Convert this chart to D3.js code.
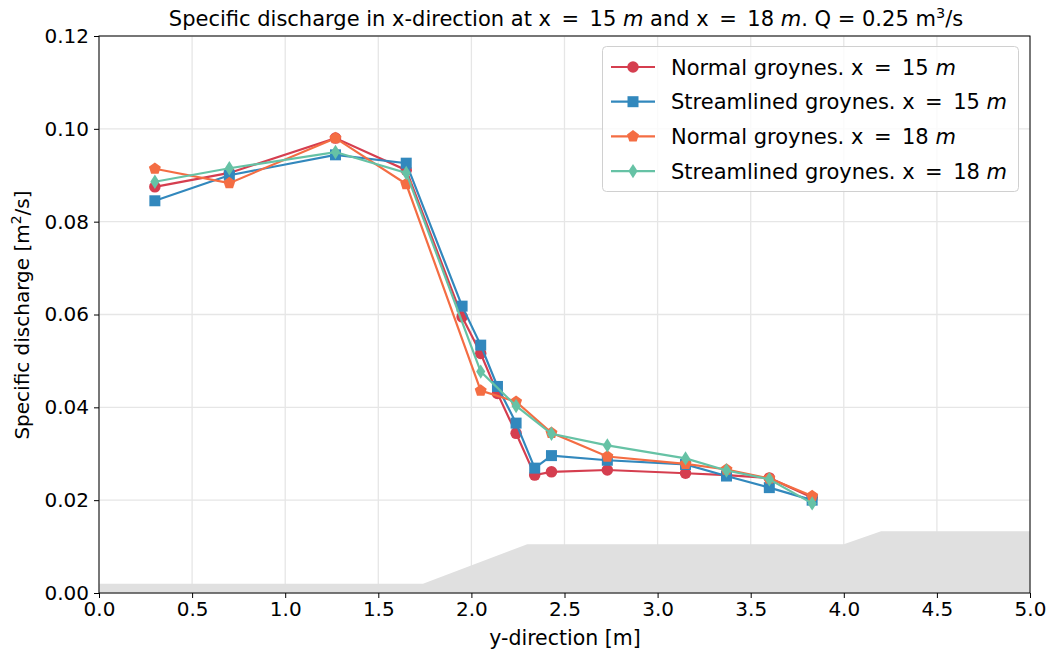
<!DOCTYPE html>
<html><head><meta charset="utf-8">
<script src="https://cdn.jsdelivr.net/npm/d3@7"></script>
<style>body{margin:0;background:#fff}svg{font-family:"DejaVu Sans",sans-serif}</style>
</head><body>
<svg id="c" width="1049" height="653"></svg>
<script>
const xA = [0.3, 0.7, 1.27, 1.65, 1.95, 2.05, 2.14, 2.24, 2.34, 2.43, 2.73, 3.15, 3.37, 3.6, 3.83];
const normal15 = [0.0875, 0.0905, 0.098, 0.0911, 0.0595, 0.0516, 0.0430, 0.0344, 0.0254, 0.0261, 0.0265, 0.0258, 0.0254, 0.0248, 0.0206];
const stream15 = [0.0845, 0.0900, 0.0944, 0.0926, 0.0618, 0.0534, 0.0445, 0.0366, 0.0269, 0.0296, 0.0286, 0.0277, 0.0252, 0.0227, 0.0200];
const xB = [0.3, 0.7, 1.27, 1.65, 2.05, 2.24, 2.43, 2.73, 3.15, 3.37, 3.6, 3.83];
const normal18 = [0.0914, 0.0883, 0.0980, 0.0881, 0.0436, 0.0412, 0.0345, 0.0294, 0.0278, 0.0266, 0.0247, 0.0209];
const stream18 = [0.0886, 0.0915, 0.0950, 0.0905, 0.0477, 0.0403, 0.0343, 0.0318, 0.0290, 0.0264, 0.0245, 0.0193];
const floorX = [0, 1.74, 2.3, 4.0, 4.2, 5.0];
const floorY = [0.002, 0.002, 0.0105, 0.0105, 0.0133, 0.0133];
const xTicks = [0, 0.5, 1, 1.5, 2, 2.5, 3, 3.5, 4, 4.5, 5];
const yTicks = [0, 0.02, 0.04, 0.06, 0.08, 0.10, 0.12];

const series = [
  {name:"Normal groynes. x", val:"15", x:xA, y:normal15, color:"#d53e4f", marker:"circle"},
  {name:"Streamlined groynes. x", val:"15", x:xA, y:stream15, color:"#3288bd", marker:"square"},
  {name:"Normal groynes. x", val:"18", x:xB, y:normal18, color:"#f46d43", marker:"pentagon"},
  {name:"Streamlined groynes. x", val:"18", x:xB, y:stream18, color:"#66c2a5", marker:"diamond"}
];

const L=99, R=1030, T=36, B=593;
const svg = d3.select("#c");
const x = d3.scaleLinear().domain([0,5]).range([L,R]);
const y = d3.scaleLinear().domain([0,0.12]).range([B,T]);
const EQ = "\u2002=\u2002";

// grid
svg.append("g").selectAll("line").data(xTicks).join("line")
  .attr("x1",d=>x(d)).attr("x2",d=>x(d)).attr("y1",T).attr("y2",B)
  .attr("stroke","#e6e6e6").attr("stroke-width",1.3);
svg.append("g").selectAll("line").data(yTicks).join("line")
  .attr("x1",L).attr("x2",R).attr("y1",d=>y(d)).attr("y2",d=>y(d))
  .attr("stroke","#e6e6e6").attr("stroke-width",1.3);

// floor
const fl = floorX.map((v,i)=>[v,floorY[i]]);
svg.append("path").datum(fl)
  .attr("d", d3.area().x(d=>x(d[0])).y0(y(0)).y1(d=>y(d[1])))
  .attr("fill","#e0e0e0");

// axes
const xa = svg.append("g").attr("transform",`translate(0,${B})`)
  .call(d3.axisBottom(x).tickValues(xTicks).tickFormat(d3.format(".1f")).tickSize(5).tickPadding(4));
const ya = svg.append("g").attr("transform",`translate(${L},0)`)
  .call(d3.axisLeft(y).tickValues(yTicks).tickFormat(d3.format(".2f")).tickSize(5).tickPadding(5));
[xa,ya].forEach(a=>{
  a.select(".domain").remove();
  a.selectAll("text").attr("font-size",20).attr("fill","#000").attr("font-family","DejaVu Sans");
  a.selectAll("line").attr("stroke","#000").attr("stroke-width",1);
});
svg.append("rect").attr("x",L).attr("y",T).attr("width",R-L).attr("height",B-T)
  .attr("fill","none").attr("stroke","#000").attr("stroke-width",1);

function markerPath(type, s){
  if(type==="circle") return d3.symbol(d3.symbolCircle, s*s*Math.PI/4)();
  if(type==="square") return d3.symbol(d3.symbolSquare, s*s)();
  if(type==="pentagon"){
    const r=s/2*1.05, p=[];
    for(let i=0;i<5;i++){const a=-Math.PI/2+i*2*Math.PI/5;p.push([r*Math.cos(a),r*Math.sin(a)]);}
    return "M"+p.map(q=>q.join(",")).join("L")+"Z";
  }
  const h=s*0.6, w=s*0.38;
  return `M0,${-h}L${w},0L0,${h}L${-w},0Z`;
}
const sizes={circle:11.5,square:11,pentagon:12,diamond:12};

const line = d3.line().x(d=>x(d[0])).y(d=>y(d[1]));
series.forEach(s=>{
  const pts = s.x.map((v,i)=>[v,s.y[i]]);
  const g = svg.append("g");
  g.append("path").datum(pts).attr("d",line).attr("fill","none")
    .attr("stroke",s.color).attr("stroke-width",2.2);
  g.selectAll("path.m").data(pts).join("path").attr("class","m")
    .attr("transform",d=>`translate(${x(d[0])},${y(d[1])})`)
    .attr("d",markerPath(s.marker,sizes[s.marker])).attr("fill",s.color);
});

// legend
const lg = svg.append("g");
lg.append("rect").attr("x",602.5).attr("y",46.5).attr("width",416).attr("height",145).attr("rx",4)
  .attr("fill","#fff").attr("fill-opacity",0.8).attr("stroke","#d0d0d0").attr("stroke-width",1);
series.forEach((s,i)=>{
  const cy = 67 + i*34.7;
  lg.append("line").attr("x1",611).attr("x2",655).attr("y1",cy).attr("y2",cy)
    .attr("stroke",s.color).attr("stroke-width",2.2);
  lg.append("path").attr("transform",`translate(633,${cy})`)
    .attr("d",markerPath(s.marker,sizes[s.marker])).attr("fill",s.color);
  const t = lg.append("text").attr("x",671).attr("y",cy+7.5).attr("font-size",21).attr("fill","#000");
  t.append("tspan").text(s.name+EQ+s.val+" ");
  t.append("tspan").attr("font-style","italic").text("m");
});

// title
const tt = svg.append("text").attr("x",566).attr("y",26).attr("text-anchor","middle")
  .attr("font-size",21).attr("fill","#000");
tt.append("tspan").text("Specific discharge in x-direction at x"+EQ+"15 ");
tt.append("tspan").attr("font-style","italic").text("m");
tt.append("tspan").text(" and x"+EQ+"18 ");
tt.append("tspan").attr("font-style","italic").text("m");
tt.append("tspan").text(". Q = 0.25 m");
tt.append("tspan").attr("font-size",14.5).attr("dy",-8).text("3");
tt.append("tspan").attr("dy",8).text("/s");

// axis labels
svg.append("text").attr("x",565).attr("y",645).attr("text-anchor","middle")
  .attr("font-size",20.5).attr("fill","#000").text("y-direction [m]");
const yl = svg.append("text").attr("transform","translate(29,315) rotate(-90)")
  .attr("text-anchor","middle").attr("font-size",20).attr("fill","#000");
yl.append("tspan").text("Specific discharge [m");
yl.append("tspan").attr("font-size",14).attr("dy",-8).text("2");
yl.append("tspan").attr("dy",8).text("/s]");
</script>
</body></html>
